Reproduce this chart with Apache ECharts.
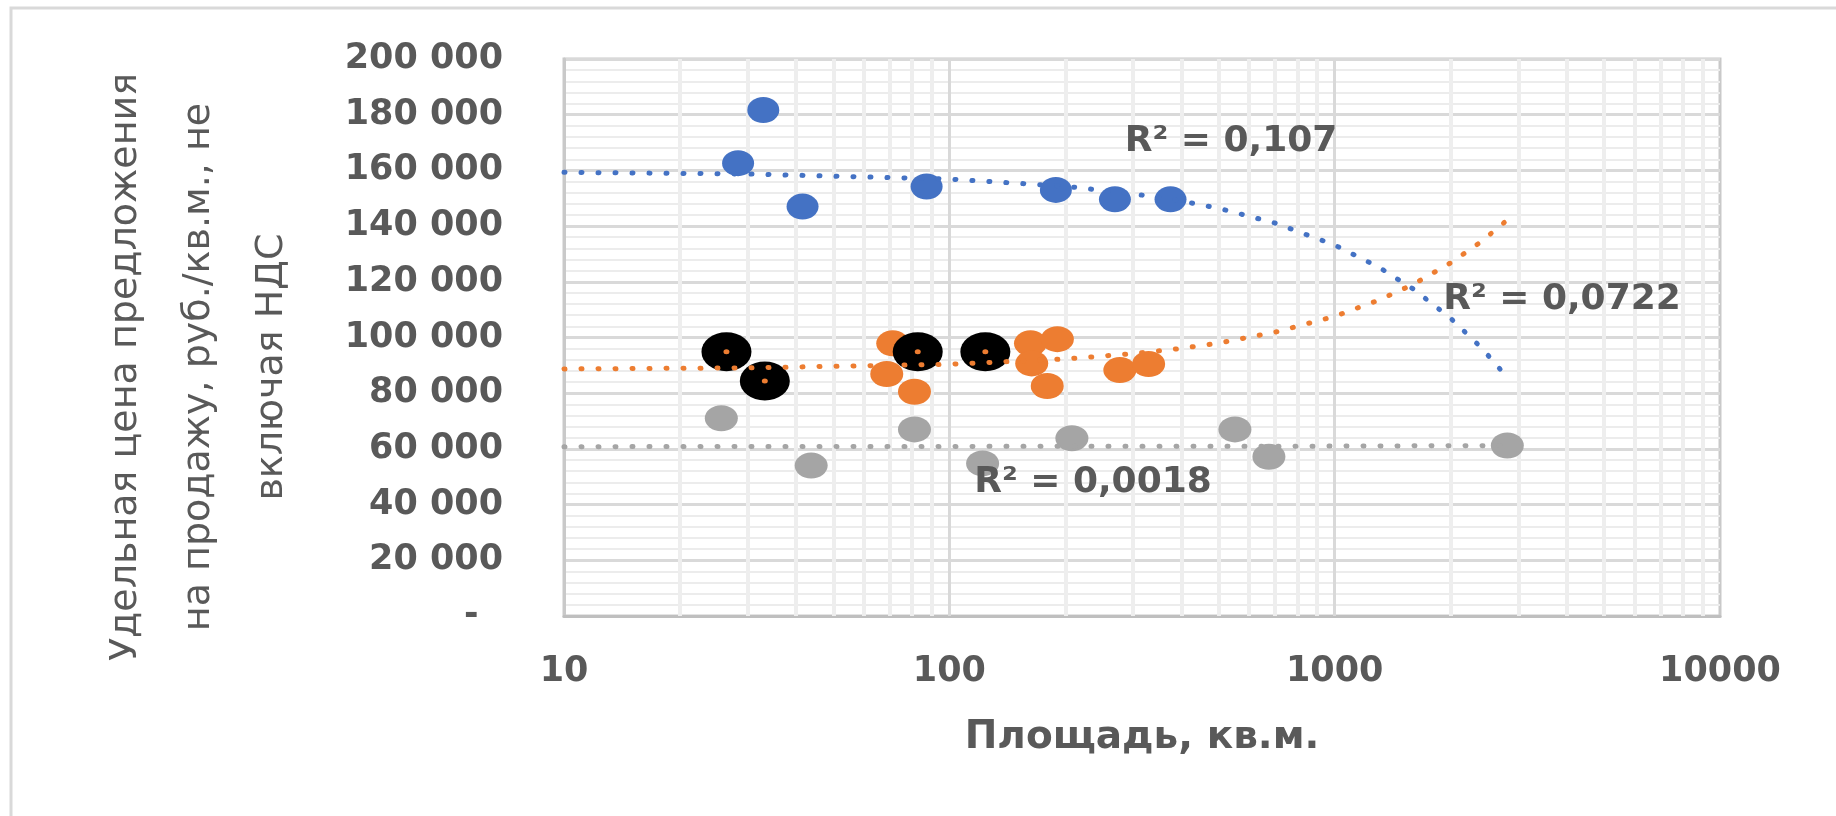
<!DOCTYPE html>
<html><head><meta charset="utf-8">
<script src="https://cdn.jsdelivr.net/npm/echarts@6/dist/echarts.min.js"></script>
<style>html,body{margin:0;padding:0;background:#fff}#c{width:1836px;height:816px}</style>
</head><body><div id="c"></div>
<script>
// ---- data ----
const blueX = [28.3, 32.9, 41.6, 87.3, 189, 269, 375];
const blueY = [162600, 181700, 147000, 154200, 153000, 149600, 149600];

const orangeX = [68.8, 71.3, 81.2, 162.4, 163.6, 179.5, 190.7, 277, 329];
const orangeY = [86900, 97900, 80500, 97900, 90700, 82600, 99400, 88300, 90500];

const blackX = [26.4, 33.2, 82.8, 124];
const blackY = [94900, 84400, 94900, 94900];

const grayX = [25.6, 43.8, 81.2, 122, 208, 551, 675, 2806];
const grayY = [71000, 54000, 67000, 54800, 63800, 67000, 57200, 61200];

// trend lines
const trendX = [10, 30, 100, 200, 300, 400, 500, 700, 1000, 1300, 1600, 2000, 2400, 2806];
const blueTrendY = [159300, 158700, 156900, 154300, 151600, 149000, 146400, 141100, 133200, 125300, 117400, 106900, 96400, 85700];
const orangeTrendY = [88700, 89100, 90400, 92300, 94200, 96100, 98000, 101900, 107600, 113400, 119100, 126800, 134400, 142200];
const grayTrendX = [10, 1000, 2806];
const grayTrendY = [60800, 61000, 61200];

const r2Labels = ['R² = 0,107', 'R² = 0,0722', 'R² = 0,0018'];

const yTickValues = [0, 20000, 40000, 60000, 80000, 100000, 120000, 140000, 160000, 180000, 200000];
const yTickLabels = ['-', '20 000', '40 000', '60 000', '80 000', '100 000', '120 000', '140 000', '160 000', '180 000', '200 000'];
const xMinorLines = [20,30,40,50,60,70,80,90,200,300,400,500,600,700,800,900,2000,3000,4000,5000,6000,7000,8000,9000];
const xMajorLines = [100, 1000];

const xTitle = 'Площадь, кв.м.';
const yTitle = 'Удельная цена предложения\nна продажу, руб./кв.м., не\nвключая НДС';

// ---- chart ----
const FONT = '"DejaVu Sans", sans-serif';
const TXT = '#595959';
const pairs = (xs, ys) => xs.map((x, i) => [x, ys[i]]);
const r2Style = (t) => ({ text: t, fontFamily: FONT, fontSize: 36, fontWeight: 'bold', fill: TXT,
  align: 'center', verticalAlign: 'middle', textAlign: 'center', textVerticalAlign: 'middle' });
const dot = (color) => ({ color: color, opacity: 1, borderWidth: 0 });

const chart = echarts.init(document.getElementById('c'));
chart.setOption({
  backgroundColor: '#ffffff',
  animation: false,
  grid: { left: 564, top: 59, right: 116, bottom: 200, show: true, borderColor: '#C9C9C9', borderWidth: 3, backgroundColor: 'transparent' },
  xAxis: {
    type: 'log', logBase: 10, min: 10, max: 10000,
    name: xTitle, nameLocation: 'middle', nameGap: 102,
    nameTextStyle: { fontFamily: FONT, fontSize: 39, fontWeight: 'bold', color: TXT },
    axisLine: { show: true, lineStyle: { color: '#BFBFBF', width: 3 } },
    axisTick: { show: false },
    axisLabel: { margin: 38, fontFamily: FONT, fontSize: 35, fontWeight: 'bold', color: TXT,
      formatter: v => String(Math.round(v)) },
    splitLine: { show: false },
    minorSplitLine: { show: false }
  },
  yAxis: {
    type: 'value', min: 0, max: 200000, interval: 20000,
    axisLine: { show: true, lineStyle: { color: '#C9C9C9', width: 3 } },
    axisTick: { show: false },
    axisLabel: { margin: 61, fontFamily: FONT, fontSize: 35, fontWeight: 'bold', color: TXT,
      formatter: v => { const i = yTickValues.indexOf(v); const s = i >= 0 ? yTickLabels[i] : ''; return v === 0 ? s + '\u00a0\u00a0' : s; } },
    splitLine: { show: true, lineStyle: { color: '#D9D9D9', width: 3 } },
    minorTick: { show: false, splitNumber: 5 },
    minorSplitLine: { show: true, lineStyle: { color: '#ECECEC', width: 2 } }
  },
  graphic: [
    { type: 'rect', z: -10, silent: true, shape: { x: 11, y: 8, width: 2400, height: 2000 },
      style: { fill: 'none', stroke: '#D9D9D9', lineWidth: 3 } },
    { type: 'text', x: 199, y: 367, rotation: Math.PI / 2, silent: true,
      style: { text: yTitle, fontFamily: FONT, fontSize: 38, fill: TXT, align: 'center', verticalAlign: 'middle',
        textAlign: 'center', textVerticalAlign: 'middle', lineHeight: 73 } },
    { type: 'text', x: 1231, y: 142, z: 100, silent: true, style: r2Style(r2Labels[0]) },
    { type: 'text', x: 1562, y: 300, z: 100, silent: true, style: r2Style(r2Labels[1]) },
    { type: 'text', x: 1093, y: 483, z: 100, silent: true, style: r2Style(r2Labels[2]) }
  ],
  series: [
    { type: 'line', data: [], z: 1, silent: true,
      markLine: { z: 1, silent: true, symbol: ['none', 'none'], label: { show: false }, animation: false,
        lineStyle: { type: 'solid', color: '#EEEEEE', width: 4 },
        data: xMinorLines.map(v => ({ xAxis: v })) } },
    { type: 'line', data: [], z: 1, silent: true,
      markLine: { z: 1, silent: true, symbol: ['none', 'none'], label: { show: false }, animation: false,
        lineStyle: { type: 'solid', color: '#D9D9D9', width: 3 },
        data: xMajorLines.map(v => ({ xAxis: v })) } },
    { name: 'gray', type: 'scatter', z: 3, data: pairs(grayX, grayY), symbol: 'circle', symbolSize: [33, 26],
      itemStyle: dot('#A5A5A5'), emphasis: { disabled: true } },
    { name: 'orange', type: 'scatter', z: 3, data: pairs(orangeX, orangeY), symbol: 'circle', symbolSize: [33, 26],
      itemStyle: dot('#ED7D31'), emphasis: { disabled: true } },
    { name: 'blue', type: 'scatter', z: 3, data: pairs(blueX, blueY), symbol: 'circle', symbolSize: [32, 26],
      itemStyle: dot('#4472C4'), emphasis: { disabled: true } },
    { name: 'black', type: 'scatter', z: 4, data: pairs(blackX, blackY), symbol: 'circle', symbolSize: [50, 39],
      itemStyle: dot('#000000'), emphasis: { disabled: true } },
    { name: 'black-center', type: 'scatter', z: 5, data: pairs(blackX, blackY), symbol: 'circle', symbolSize: [6, 5],
      itemStyle: dot('#ED7D31'), emphasis: { disabled: true } },
    { name: 'blue trend', type: 'line', z: 6, data: pairs(trendX, blueTrendY), symbol: 'none', showSymbol: false,
      lineStyle: { color: '#4472C4', width: 5, type: [1, 16], cap: 'round' } },
    { name: 'orange trend', type: 'line', z: 6, data: pairs(trendX, orangeTrendY), symbol: 'none', showSymbol: false,
      lineStyle: { color: '#ED7D31', width: 5, type: [1, 16], cap: 'round' } },
    { name: 'gray trend', type: 'line', z: 6, data: pairs(grayTrendX, grayTrendY), symbol: 'none', showSymbol: false,
      lineStyle: { color: '#A5A5A5', width: 5, type: [1, 16], cap: 'round' } }
  ]
});
</script>
</body></html>
